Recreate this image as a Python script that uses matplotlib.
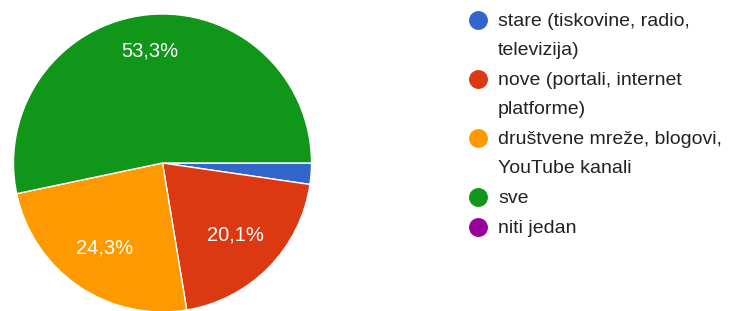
import matplotlib.pyplot as plt

# podaci
labels = [
    "stare (tiskovine, radio,\ntelevizija)",
    "nove (portali, internet\nplatforme)",
    "društvene mreže, blogovi,\nYouTube kanali",
    "sve",
    "niti jedan",
]
shares = [2.3, 20.1, 24.3, 53.3, 0.0]
shown = ["", "20,1%", "24,3%", "53,3%", ""]
colors = ["#3366cc", "#dc3912", "#ff9900", "#109618", "#990099"]

plt.rcParams["font.family"] = ["Liberation Sans", "DejaVu Sans"]

W, H = 730, 311
fig = plt.figure(figsize=(W / 100, H / 100), dpi=100)

# pita
R = 149
cx, cy = 162.5, 163
ax = fig.add_axes([(cx - R) / W, (H - cy - R) / H, 2 * R / W, 2 * R / H])
vals = [s for s in shares if s > 0]
cols = [c for s, c in zip(shares, colors) if s > 0]
txt = [t for s, t in zip(shares, shown) if s > 0]
wedges, texts = ax.pie(vals, colors=cols, startangle=0, counterclock=False,
                       labels=txt, labeldistance=0.69,
                       wedgeprops={"edgecolor": "white", "linewidth": 1},
                       textprops={"color": "white", "fontsize": 14.5})
for t in texts:
    t.set_ha("center")
    t.set_va("center")
texts[-1].set_position((-0.084, 0.755))  # 53,3% malo više, kao u originalu
ax.set_xlim(-1, 1)
ax.set_ylim(-1, 1)
ax.set_aspect("equal")

# legenda
lax = fig.add_axes([0, 0, 1, 1])
lax.set_xlim(0, W)
lax.set_ylim(H, 0)
lax.axis("off")
line_h, gap = 29, 1
y = 20.5
for lab, c in zip(labels, colors):
    lax.scatter([478.5], [y], s=185, color=c, edgecolors="none")
    for k, part in enumerate(lab.split("\n")):
        lax.text(498, y + k * line_h + 1, part, fontsize=14, color="#222222",
                 va="center", ha="left")
    y += len(lab.split("\n")) * line_h + gap

fig.savefig("out.png", dpi=100)
